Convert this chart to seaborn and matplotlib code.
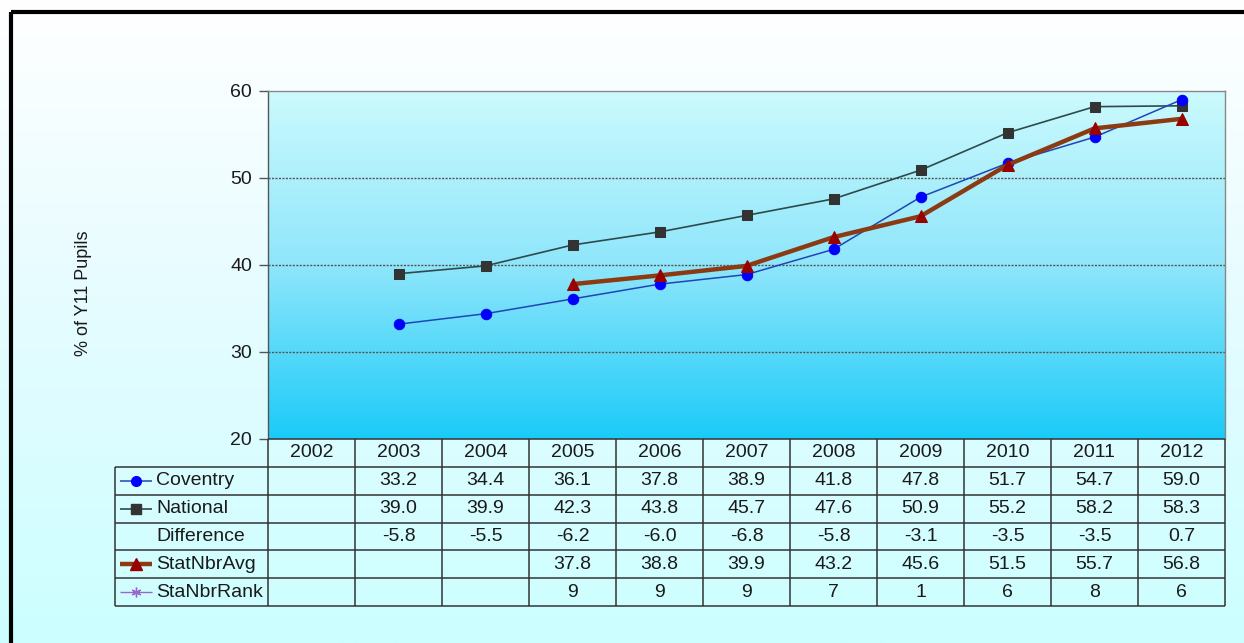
import numpy as np
import pandas as pd
import matplotlib
matplotlib.use("Agg")
import matplotlib.pyplot as plt
import seaborn as sns
from matplotlib.colors import LinearSegmentedColormap
from matplotlib.lines import Line2D

# ---- data ---------------------------------------------------------------
years = ["2002", "2003", "2004", "2005", "2006", "2007", "2008", "2009", "2010", "2011", "2012"]
coventry = [np.nan, 33.2, 34.4, 36.1, 37.8, 38.9, 41.8, 47.8, 51.7, 54.7, 59.0]
national = [np.nan, 39.0, 39.9, 42.3, 43.8, 45.7, 47.6, 50.9, 55.2, 58.2, 58.3]
difference = [np.nan, -5.8, -5.5, -6.2, -6.0, -6.8, -5.8, -3.1, -3.5, -3.5, 0.7]
stat_nbr_avg = [np.nan, np.nan, np.nan, 37.8, 38.8, 39.9, 43.2, 45.6, 51.5, 55.7, 56.8]
sta_nbr_rank = [np.nan, np.nan, np.nan, 9, 9, 9, 7, 1, 6, 8, 6]

row_labels = ["Coventry", "National", "Difference", "StatNbrAvg", "StaNbrRank"]
y_ticks = [20, 30, 40, 50, 60]

sns.set_theme(style="white")
plt.rcParams["font.family"] = ["Liberation Sans", "DejaVu Sans"]

W, H = 1244, 643
fig = plt.figure(figsize=(W / 100, H / 100), dpi=100)

# figure background: soft vertical fade from white to pale cyan
bg = fig.add_axes([0, 0, 1, 1], zorder=-10)
bg_cmap = LinearSegmentedColormap.from_list("bg", ["#FFFFFF", "#E4FCFF", "#CCFFFF"])
bg.imshow(np.linspace(0, 1, 256).reshape(-1, 1), cmap=bg_cmap, aspect="auto",
          extent=[0, 1, 0, 1], origin="upper")
bg.set_xlim(0, 1)
bg.set_ylim(0, 1)
bg.axis("off")
# frame lines (left and top)
bg.plot([11 / W, 11 / W], [0, 1 - 12 / H], color="black", lw=3, solid_capstyle="butt")
bg.plot([11 / W, 1], [1 - 12 / H, 1 - 12 / H], color="black", lw=3, solid_capstyle="butt")

# ---- plot area ---------------------------------------------------------
px_left, px_right, px_top, px_bottom = 268, 1225, 91, 439
ax = fig.add_axes([px_left / W, 1 - px_bottom / H, (px_right - px_left) / W,
                   (px_bottom - px_top) / H])
x = np.arange(len(years))
ax.set_xlim(-0.5, len(years) - 0.5)
ax.set_ylim(y_ticks[0], y_ticks[-1])

plot_cmap = LinearSegmentedColormap.from_list("plot", ["#CBFAFD", "#8FE6FB", "#1BCBF8"])
ax.imshow(np.linspace(0, 1, 256).reshape(-1, 1), cmap=plot_cmap, aspect="auto",
          extent=[-0.5, len(years) - 0.5, y_ticks[0], y_ticks[-1]], origin="upper", zorder=0)

for gy in y_ticks[1:-1]:
    ax.axhline(gy, color="#555555", lw=1, ls=(0, (1.5, 1)), zorder=1)

df = pd.DataFrame({"x": x, "Coventry": coventry, "National": national,
                   "StatNbrAvg": stat_nbr_avg, "StaNbrRank": sta_nbr_rank})

sns.lineplot(data=df, x="x", y="National", ax=ax, color="#2E4B4B", lw=1.2,
             marker="s", markersize=7.5, markerfacecolor="#333333",
             markeredgecolor="#333333", estimator=None, sort=False, zorder=3)
sns.lineplot(data=df, x="x", y="Coventry", ax=ax, color="#1F46B8", lw=1.1,
             marker="o", markersize=7.5, markerfacecolor="#0000FF",
             markeredgecolor="#0000FF", estimator=None, sort=False, zorder=4)
sns.lineplot(data=df, x="x", y="StatNbrAvg", ax=ax, color="#8B3A12", lw=3.2,
             marker="^", markersize=9, markerfacecolor="#990000",
             markeredgecolor="#990000", estimator=None, sort=False, zorder=5)
sns.lineplot(data=df, x="x", y="StaNbrRank", ax=ax, color="#9966CC", lw=1,
             marker=(6, 2, 0), markersize=7, estimator=None, sort=False, zorder=5)

ax.set_xlabel("")
ax.set_xticks([])
ax.set_yticks(y_ticks)
ax.set_yticklabels([str(v) for v in y_ticks], fontsize=14, color="#1a1a1a")
ax.tick_params(axis="y", direction="out", length=6.5, width=1, color="#555555",
               pad=5, left=True)
ax.set_ylabel("% of Y11 Pupils", fontsize=13, color="#1a1a1a")
ax.yaxis.set_label_coords((92 - px_left) / (px_right - px_left), 0.42)
for side, col in [("left", "#555555"), ("top", "#888888"), ("right", "#888888")]:
    ax.spines[side].set_visible(True)
    ax.spines[side].set_color(col)
    ax.spines[side].set_linewidth(1)
ax.spines["bottom"].set_visible(False)

# ---- data table --------------------------------------------------------
tbl_left, tbl_top, tbl_bottom = 115, 439, 606
col_w = (px_right - px_left) / len(years)
n_rows = len(row_labels) + 1
tax = fig.add_axes([tbl_left / W, 1 - tbl_bottom / H, (px_right - tbl_left) / W,
                    (tbl_bottom - tbl_top) / H])
x_min = -0.5 - (px_left - tbl_left) / col_w
tax.set_xlim(x_min, len(years) - 0.5)
tax.set_ylim(n_rows, 0)
tax.axis("off")

def px_to_col(px):
    return (px - px_left) / col_w - 0.5

line_kw = dict(color="#333333", lw=1.1, solid_capstyle="butt", clip_on=False)
# horizontal rules
tax.plot([-0.5, len(years) - 0.5], [0, 0], **line_kw)
for r in range(1, n_rows + 1):
    tax.plot([x_min, len(years) - 0.5], [r, r], **line_kw)
# vertical rules
tax.plot([x_min, x_min], [1, n_rows], **line_kw)
for c in range(len(years) + 1):
    tax.plot([c - 0.5, c - 0.5], [0, n_rows], **line_kw)

txt_kw = dict(fontsize=14, color="#1a1a1a", va="center")
for i, yr in enumerate(years):
    tax.text(i, 0.5, yr, ha="center", **txt_kw)

table_rows = [coventry, national, difference, stat_nbr_avg, sta_nbr_rank]
fmts = ["{:.1f}", "{:.1f}", "{:.1f}", "{:.1f}", "{:.0f}"]
for r, (vals, fmt) in enumerate(zip(table_rows, fmts), start=1):
    for i, v in enumerate(vals):
        if not np.isnan(v):
            tax.text(i, r + 0.5, fmt.format(v), ha="center", **txt_kw)

# legend keys inside the label column
key_x0, key_x1, key_xm = px_to_col(120), px_to_col(152), px_to_col(136)
keys = [
    dict(color="#1F46B8", lw=1.1, marker="o", ms=7, mfc="#0000FF", mec="#0000FF"),
    dict(color="#2E4B4B", lw=1.2, marker="s", ms=6.5, mfc="#333333", mec="#333333"),
    None,
    dict(color="#8B3A12", lw=3.2, marker="^", ms=8.5, mfc="#990000", mec="#990000"),
    dict(color="#9966CC", lw=1, marker=(6, 2, 0), ms=7, mfc="#9966CC", mec="#9966CC"),
]
for r, (lab, k) in enumerate(zip(row_labels, keys), start=1):
    if k is not None:
        tax.add_line(Line2D([key_x0, key_x1], [r + 0.5, r + 0.5], color=k["color"],
                            lw=k["lw"], solid_capstyle="butt"))
        tax.add_line(Line2D([key_xm], [r + 0.5], marker=k["marker"], ms=k["ms"],
                            mfc=k["mfc"], mec=k["mec"], lw=0))
    tax.text(px_to_col(156), r + 0.5, lab, ha="left", **txt_kw)

fig.savefig("out.png", dpi=100)
